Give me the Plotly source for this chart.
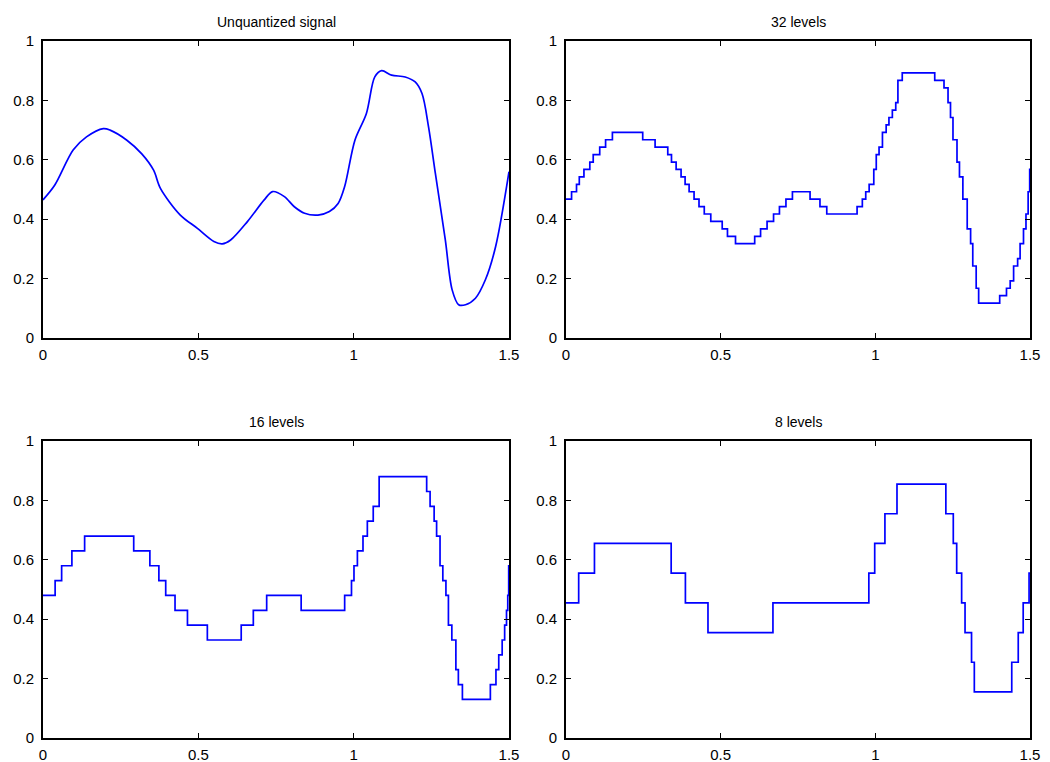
import plotly.graph_objects as go

# ---------------- data ----------------
# Unquantized signal: sample times and values
sig_t = [0.000, 0.038, 0.097, 0.140, 0.194, 0.216, 0.270, 0.318, 0.356, 0.378,
         0.442, 0.496, 0.550, 0.577, 0.604, 0.658, 0.712, 0.739, 0.777, 0.809,
         0.842, 0.885, 0.922, 0.950, 0.971, 1.004, 1.041, 1.068, 1.090, 1.122,
         1.166, 1.198, 1.220, 1.241, 1.263, 1.295, 1.317, 1.338, 1.360, 1.392,
         1.424, 1.457, 1.500]
sig_v = [0.465, 0.515, 0.633, 0.677, 0.705, 0.700, 0.666, 0.620, 0.565, 0.504,
         0.414, 0.370, 0.325, 0.317, 0.330, 0.392, 0.465, 0.493, 0.476, 0.442,
         0.420, 0.414, 0.426, 0.453, 0.510, 0.666, 0.756, 0.879, 0.900, 0.885,
         0.879, 0.862, 0.823, 0.711, 0.554, 0.330, 0.162, 0.112, 0.112, 0.134,
         0.196, 0.308, 0.560]

# 32 levels: step start times and levels
q32_t = [0.000, 0.018, 0.034, 0.043, 0.058, 0.077, 0.088, 0.109, 0.128, 0.150,
         0.248, 0.288, 0.329, 0.341, 0.356, 0.372, 0.385, 0.398, 0.414, 0.430,
         0.447, 0.468, 0.505, 0.522, 0.548, 0.610, 0.629, 0.650, 0.671, 0.690,
         0.711, 0.732, 0.789, 0.821, 0.843, 0.941, 0.958, 0.969, 0.980, 0.995,
         1.003, 1.012, 1.023, 1.035, 1.044, 1.055, 1.066, 1.073, 1.087, 1.192,
         1.222, 1.235, 1.243, 1.251, 1.264, 1.272, 1.283, 1.297, 1.308, 1.315,
         1.326, 1.334, 1.402, 1.424, 1.436, 1.447, 1.460, 1.468, 1.479, 1.487,
         1.494, 1.499]
q32_v = [0.4675, 0.4925, 0.5175, 0.5425, 0.5675, 0.5925, 0.6175, 0.6425, 0.6675, 0.6925,
         0.6675, 0.6425, 0.6175, 0.5925, 0.5675, 0.5425, 0.5175, 0.4925, 0.4675, 0.4425,
         0.4175, 0.3925, 0.3675, 0.3425, 0.3175, 0.3425, 0.3675, 0.3925, 0.4175, 0.4425,
         0.4675, 0.4925, 0.4675, 0.4425, 0.4175, 0.4425, 0.4675, 0.4925, 0.5175, 0.5675,
         0.6175, 0.6425, 0.6925, 0.7175, 0.7425, 0.7675, 0.7925, 0.8675, 0.8925, 0.8675,
         0.8425, 0.7925, 0.7425, 0.6675, 0.5925, 0.5425, 0.4675, 0.3675, 0.3175, 0.2425,
         0.1675, 0.1175, 0.1425, 0.1675, 0.1925, 0.2425, 0.2675, 0.3175, 0.3675, 0.4175,
         0.4925, 0.5675]

# 16 levels
q16_t = [0.000, 0.039, 0.060, 0.093, 0.134, 0.292, 0.344, 0.373, 0.395, 0.425,
         0.465, 0.529, 0.638, 0.677, 0.720, 0.831, 0.971, 0.993, 1.001, 1.012,
         1.030, 1.044, 1.063, 1.082, 1.235, 1.246, 1.259, 1.267, 1.278, 1.287,
         1.297, 1.305, 1.316, 1.329, 1.337, 1.350, 1.440, 1.458, 1.467, 1.478,
         1.486, 1.492, 1.496, 1.499]
q16_v = [0.48, 0.53, 0.58, 0.63, 0.68, 0.63, 0.58, 0.53, 0.48, 0.43,
         0.38, 0.33, 0.38, 0.43, 0.48, 0.43, 0.48, 0.53, 0.58, 0.63,
         0.68, 0.73, 0.78, 0.88, 0.83, 0.78, 0.73, 0.68, 0.58, 0.53,
         0.48, 0.38, 0.33, 0.23, 0.18, 0.13, 0.18, 0.23, 0.28, 0.33,
         0.38, 0.43, 0.48, 0.58]

# 8 levels
q8_t = [0.000, 0.041, 0.092, 0.340, 0.386, 0.459, 0.669, 0.979, 0.998, 1.031,
        1.070, 1.228, 1.252, 1.263, 1.279, 1.290, 1.311, 1.320, 1.441, 1.462,
        1.478, 1.497]
q8_v = [0.455, 0.555, 0.655, 0.555, 0.455, 0.355, 0.455, 0.555, 0.655, 0.755,
        0.855, 0.755, 0.655, 0.555, 0.455, 0.355, 0.255, 0.155, 0.255, 0.355,
        0.455, 0.555]

titles = ["Unquantized signal", "32 levels", "16 levels", "8 levels"]
x_end = 1.5
x_ticks = [0, 0.5, 1, 1.5]
x_ticklabels = ["0", "0.5", "1", "1.5"]
y_ticks = [0, 0.2, 0.4, 0.6, 0.8, 1]
y_ticklabels = ["0", "0.2", "0.4", "0.6", "0.8", "1"]

# ---------------- figure ----------------
W, H = 1050, 762
LINE = "#0000ff"
FONT = "Liberation Sans, Arial, Helvetica, sans-serif"

fig = go.Figure()

# Panel 1: smooth signal
fig.add_trace(go.Scatter(x=sig_t, y=sig_v, mode="lines",
                         line=dict(color=LINE, width=1.7, shape="spline", smoothing=0.9),
                         xaxis="x", yaxis="y", showlegend=False))


def stairs(t, v, ax, ay):
    fig.add_trace(go.Scatter(x=t + [x_end], y=v + [v[-1]], mode="lines",
                             line=dict(color=LINE, width=1.7, shape="hv"),
                             xaxis=ax, yaxis=ay, showlegend=False))


stairs(q32_t, q32_v, "x2", "y2")
stairs(q16_t, q16_v, "x3", "y3")
stairs(q8_t, q8_v, "x4", "y4")

# panel domains (pixels -> paper)
left = (43 / W, 509 / W)
right = (566 / W, 1030 / W)
top = (1 - 338 / H, 1 - 41 / H)
bottom = (1 - 738 / H, 1 - 441 / H)

axis_common = dict(showline=True, linecolor="black", linewidth=2, mirror="ticks",
                   ticks="inside", ticklen=5, tickwidth=1, tickcolor="black",
                   showgrid=False, zeroline=False, automargin=False,
                   tickfont=dict(family=FONT, size=15, color="black"))

layout = dict(width=W, height=H, margin=dict(l=0, r=0, t=0, b=0, pad=0),
              paper_bgcolor="white", plot_bgcolor="white",
              font=dict(family=FONT, color="black"))

panels = [("", left, top), ("2", right, top), ("3", left, bottom), ("4", right, bottom)]
annotations = []
for (suf, xd, yd), title in zip(panels, titles):
    layout["xaxis" + suf] = dict(axis_common, domain=list(xd), range=[0, x_end],
                                 tickvals=x_ticks, ticktext=x_ticklabels,
                                 anchor="y" + suf, ticklabelstandoff=2)
    layout["yaxis" + suf] = dict(axis_common, domain=list(yd), range=[0, 1],
                                 tickvals=y_ticks, ticktext=y_ticklabels,
                                 anchor="x" + suf, ticklabelstandoff=4)
    annotations.append(dict(text=title, xref="paper", yref="paper",
                            x=(xd[0] + xd[1]) / 2, y=yd[1], yshift=9,
                            xanchor="center", yanchor="bottom", showarrow=False,
                            font=dict(family=FONT, size=14, color="black")))
layout["annotations"] = annotations
fig.update_layout(**layout)

fig.write_html("out.html", config={"displayModeBar": False},
               post_script="document.body.style.margin='0';document.body.style.overflow='hidden';")
